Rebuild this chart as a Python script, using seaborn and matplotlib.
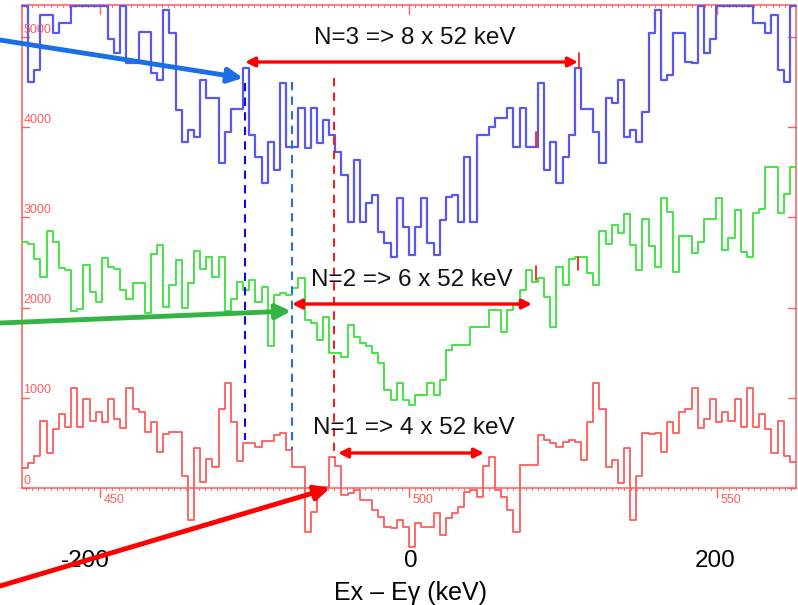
import numpy as np
import pandas as pd
import matplotlib
matplotlib.use("Agg")
import matplotlib.pyplot as plt
import seaborn as sns

# ---------------- data ----------------
blue_counts = [5600, 4500, 4640, 5250, 5250, 5050, 5160, 5160, 5600, 5600,
               5600, 5600, 5600, 5600, 4980, 4820, 5600, 4710, 4710, 5060,
               5060, 4600, 4520, 5300, 5050, 4190, 3840, 3970, 3890, 4520,
               4330, 4330, 3600, 3950, 4200, 4200, 4660, 3910, 3670, 3380,
               3840, 3530, 4490, 3780, 3780, 4210, 3770, 4210, 3830, 4080,
               3910, 3730, 3470, 2950, 3640, 2950, 3160, 3250, 2840, 2720,
               2560, 3220, 2890, 2580, 2890, 3220, 2720, 2580, 2970, 3230,
               3250, 2950, 3670, 2950, 3910, 3910, 4000, 4100, 4100, 4210,
               3780, 4210, 3780, 3780, 4490, 3530, 3840, 3380, 3670, 3910,
               4660, 4200, 4200, 3950, 3600, 4330, 4270, 4520, 3890, 3970,
               3840, 4170, 5050, 5300, 4520, 4580, 5050, 5050, 4720, 4710,
               5600, 4820, 4980, 5600, 5600, 5600, 5600, 5600, 5600, 5160,
               5160, 5050, 5250, 4640, 4500, 5600]
green_counts = [2730, 2710, 2540, 2340, 2850, 2730, 2440, 2420, 1960, 1980,
                2470, 2170, 2060, 2550, 2450, 2430, 2200, 2100, 2270, 2270,
                1940, 2600, 2700, 2010, 2250, 2530, 2000, 2270, 2630, 2430,
                2560, 2340, 2560, 1960, 2100, 2280, 2200, 2310, 2060, 2230,
                1570, 2140, 2160, 2140, 2220, 2330, 1860, 1830, 1640, 1900,
                1500, 1500, 1450, 1810, 1680, 1610, 1580, 1500, 1390, 1090,
                980, 1160, 980, 920, 1030, 1030, 1160, 1030, 1200, 1530,
                1590, 1590, 1590, 1790, 1790, 1790, 1970, 1970, 1730, 1970,
                2030, 2200, 2420, 2290, 2330, 2120, 1790, 2450, 2250, 2540,
                2560, 2560, 2380, 2250, 2850, 2710, 2920, 2830, 3040, 2700,
                2420, 2980, 2680, 2450, 3220, 3060, 2400, 2800, 2800, 2610,
                2730, 2980, 2980, 3220, 2640, 2770, 3080, 2620, 2560, 3050,
                3090, 3560, 3560, 3050, 3260, 3560]
red_counts = [220, 280, 360, 740, 390, 650, 820, 680, 1110, 680,
              990, 740, 840, 730, 990, 770, 670, 1110, 880, 840,
              620, 730, 400, 600, 620, 620, 130, -360, 440, 70,
              320, 230, 880, 1160, 730, 300, 500, 500, 455, 520,
              520, 590, 610, 420, 230, 230, -490, -270, 10, 10,
              340, 240, -80, -60, -20, -130, -130, -240, -320, -430,
              -440, -360, -430, -650, -390, -430, -430, -280, -520, -330,
              -280, -210, -40, -20, -100, 240, 340, -20, -100, -240,
              -490, 260, 260, 260, 590, 530, 500, 455, 510, 530,
              510, 310, 730, 1160, 880, 230, 310, 60, 440, -360,
              130, 610, 600, 610, 400, 730, 610, 840, 880, 1110,
              670, 770, 990, 730, 840, 740, 990, 680, 1110, 680,
              820, 650, 390, 740, 360, 290]

channel_ticks = [450, 500, 550]
count_ticks = [0, 1000, 2000, 3000, 4000, 5000]
kev_ticks = [-200, 0, 200]
kev_tick_channels = [447.6, 500.4, 549.7]
band_labels = ["N=3 => 8 x 52 keV", "N=2 => 6 x 52 keV", "N=1 => 4 x 52 keV"]
x_title = "Ex \u2013 E\u03b3 (keV)"

# ---------------- style ----------------
sns.set_theme(style="white")
plt.rcParams["font.family"] = ["Liberation Sans", "DejaVu Sans"]

FRAME_C = "#ff5c5c"
BLUE_C = "#5858f0"
GREEN_C = "#48e448"
RED_C = "#ff5a5a"

fig = plt.figure(figsize=(7.98, 6.05), dpi=100)
ax = fig.add_axes([0, 0, 1, 1])
ax.set_xlim(433.79, 563.13)
ax.set_ylim(-1297.5, 5412)
ax.set_axis_off()

FL, FR, FT = 437.36, 562.81, 5356.0
PXX = 1 / 6.17     # channels per pixel
PXY = 11.09        # counts per pixel
edges = np.linspace(FL, FR, len(blue_counts) + 1)


def step_frame(vals, top=None):
    v = np.asarray(vals, dtype=float)
    if top is not None:
        v = np.minimum(v, top)
    return pd.DataFrame({"channel": edges, "counts": np.append(v, v[-1])})


for vals, col, lw, top in [(red_counts, RED_C, 1.3, None),
                           (green_counts, GREEN_C, 1.4, None),
                           (blue_counts, BLUE_C, 1.6, FT - PXY)]:
    sns.lineplot(data=step_frame(vals, top), x="channel", y="counts",
                 drawstyle="steps-post", estimator=None, sort=False,
                 color=col, lw=lw, ax=ax, zorder=3)

# ---------------- frame & ticks ----------------
ax.plot([FL, FL, FR, FR], [0, FT, FT, 0], color=FRAME_C, lw=1.1, zorder=2)
ax.plot([FL, FR], [0, 0], color=FRAME_C, lw=1.1, zorder=2)
for ch in np.arange(438, 563):
    ax.plot([ch, ch], [FT, FT - 2.2 * PXY], color=FRAME_C, lw=0.7, zorder=2)
    ax.plot([ch, ch], [0, -2.2 * PXY], color=FRAME_C, lw=0.7, zorder=2)
for t in channel_ticks:
    ax.plot([t, t], [FT, FT - 9 * PXY], color=FRAME_C, lw=1.0, zorder=2)
    ax.plot([t, t], [0, -9 * PXY], color=FRAME_C, lw=1.0, zorder=2)
    ax.text(t + 4 * PXX, -6 * PXY, str(t), color=FRAME_C, fontsize=9,
            ha="left", va="top", zorder=4)
for c in count_ticks:
    ax.plot([FL, FL + 7 * PXX], [c, c], color=FRAME_C, lw=1.0, zorder=2)
    ax.plot([FR - 8 * PXX, FR], [c, c], color=FRAME_C, lw=1.0, zorder=2)
    ax.text(FL + 0.2, c + 1.5 * PXY, str(c), color=FRAME_C, fontsize=9,
            ha="left", va="bottom", zorder=4)

# outer keV scale
for k, ch in zip(kev_ticks, kev_tick_channels):
    ax.text(ch, (488 - 561) * PXY, str(k), fontsize=17.5, ha="center",
            va="center", color="black")
ax.text(500.4, (488 - 600) * PXY, x_title, fontsize=18, ha="center",
        va="baseline", color="black")

# ---------------- dashed guide lines ----------------
def px2ch(px):
    return 450 + (px - 100) * PXX


def py2c(py):
    return (488 - py) * PXY


ax.plot([px2ch(245)] * 2, [py2c(83), py2c(440)], color="#0a0aee", lw=1.5,
        ls=(0, (4, 3)), zorder=4)
ax.plot([px2ch(291.5)] * 2, [py2c(82), py2c(450)], color="#2272d4", lw=1.5,
        ls=(0, (4, 3)), zorder=4)
ax.plot([px2ch(334)] * 2, [py2c(78), py2c(458)], color="#ee2020", lw=1.5,
        ls=(0, (4, 3)), zorder=4)
for px, y0, y1 in [(536, 132, 147), (579, 53, 68), (536, 266, 280), (578, 257, 270)]:
    ax.plot([px2ch(px)] * 2, [py2c(y0), py2c(y1)], color="#ff2020", lw=1.3, zorder=4)

# ---------------- double arrows + labels ----------------
for (xa, xb, yy), lab, (tx, ty) in zip(
        [(245, 578, 62), (292, 532, 304), (338, 484, 453)], band_labels,
        [(415, 38), (411.7, 280), (414, 428)]):
    ax.annotate("", xy=(px2ch(xb), py2c(yy)), xytext=(px2ch(xa), py2c(yy)),
                arrowprops=dict(arrowstyle="<|-|>", color="#ff0000", lw=2.4,
                                mutation_scale=14, shrinkA=0, shrinkB=0),
                zorder=5)
    ax.text(px2ch(tx), py2c(ty), lab, fontsize=17.5, ha="center",
            va="center", color="#111111", zorder=6)

# ---------------- pointer arrows ----------------
for (x0, y0, x1, y1), col in [((0, 40, 243, 78), "#1a6ee6"),
                              ((0, 323, 291, 311), "#33b444"),
                              ((0, 586, 330, 488), "#ff0000")]:
    ax.annotate("", xy=(px2ch(x1), py2c(y1)), xytext=(px2ch(x0), py2c(y0)),
                arrowprops=dict(arrowstyle="-|>", color=col, lw=3.5,
                                mutation_scale=22, shrinkA=0, shrinkB=0),
                zorder=7, annotation_clip=False)

fig.savefig("out.png", dpi=100)
